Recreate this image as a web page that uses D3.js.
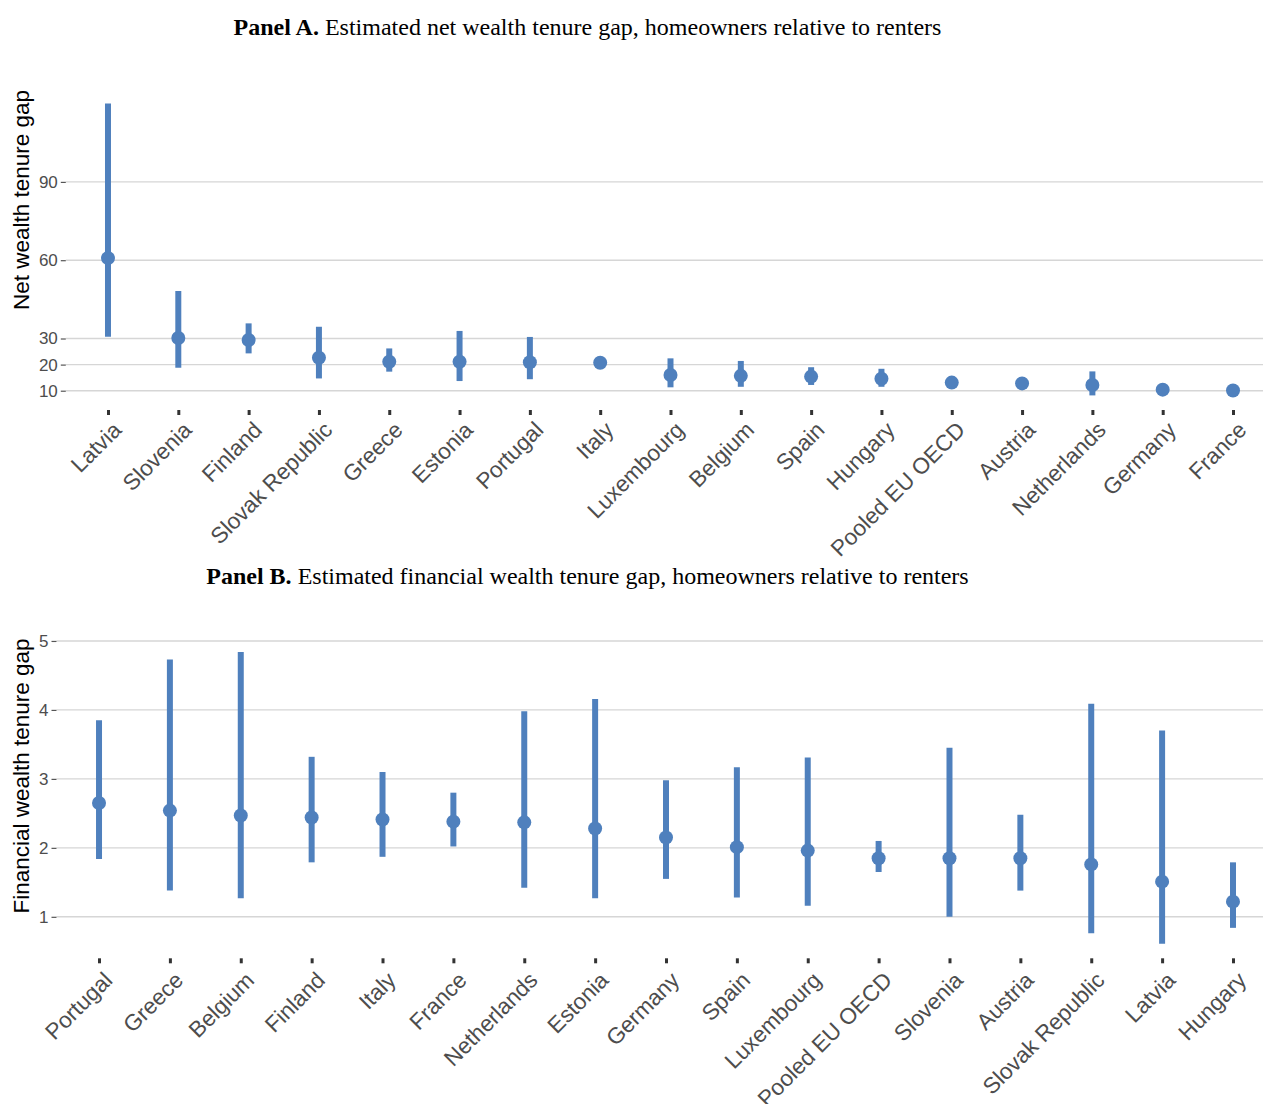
<!DOCTYPE html>
<html>
<head>
<meta charset="utf-8">
<script src="https://cdn.jsdelivr.net/npm/d3@7"></script>
<style>
  html, body { margin: 0; padding: 0; background: #ffffff; }
  svg { display: block; }
</style>
</head>
<body>
<svg id="chart" width="1263" height="1104"></svg>
<script>
// Panel A: net wealth tenure gap (estimate with confidence interval)
const countriesA = ["Latvia", "Slovenia", "Finland", "Slovak Republic", "Greece", "Estonia", "Portugal", "Italy",
  "Luxembourg", "Belgium", "Spain", "Hungary", "Pooled EU OECD", "Austria", "Netherlands", "Germany", "France"];
const estA  = [60.8, 30.2, 29.4, 22.6, 21.1, 21.1, 20.9, 20.7, 16.0, 15.7, 15.4, 14.6, 13.1, 12.8, 12.2, 10.4, 10.1];
const lowA  = [30.7, 18.8, 24.3, 14.7, 17.3, 13.7, 14.4, 19.5, 11.3, 11.5, 12.2, 11.5, 12.4, 11.8, 8.2, 9.6, 9.3];
const highA = [120.0, 48.2, 35.8, 34.5, 26.2, 32.9, 30.6, 21.9, 22.4, 21.4, 19.0, 18.4, 13.8, 13.8, 17.4, 11.2, 10.9];
const ticksA = [10, 20, 30, 60, 90];

// Panel B: financial wealth tenure gap
const countriesB = ["Portugal", "Greece", "Belgium", "Finland", "Italy", "France", "Netherlands", "Estonia", "Germany",
  "Spain", "Luxembourg", "Pooled EU OECD", "Slovenia", "Austria", "Slovak Republic", "Latvia", "Hungary"];
const estB  = [2.65, 2.54, 2.47, 2.44, 2.41, 2.38, 2.37, 2.28, 2.15, 2.01, 1.96, 1.85, 1.85, 1.85, 1.76, 1.51, 1.22];
const lowB  = [1.84, 1.38, 1.27, 1.79, 1.87, 2.02, 1.42, 1.27, 1.55, 1.28, 1.16, 1.65, 1.00, 1.38, 0.76, 0.61, 0.84];
const highB = [3.85, 4.73, 4.84, 3.32, 3.10, 2.80, 3.98, 4.16, 2.98, 3.17, 3.31, 2.10, 3.45, 2.48, 4.09, 3.70, 1.79];
const ticksB = [1, 2, 3, 4, 5];

const BLUE = "#4f80bd";
const GRID = "#d6d6d6";
const SANS = "'Liberation Sans', Arial, sans-serif";
const SERIF = "'Liberation Serif', 'Times New Roman', serif";

const svg = d3.select("#chart");

function drawPanel(cfg) {
  const rows = cfg.countries.map((c, i) => ({ c, est: cfg.est[i], lo: cfg.low[i], hi: cfg.high[i] }));

  // data range with a 5% margin on both ends
  const lo = d3.min(rows, d => d.lo), hi = d3.max(rows, d => d.hi);
  const pad = (hi - lo) * 0.05;

  const x = d3.scalePoint().domain(cfg.countries).range([cfg.left, cfg.right]).padding(0.6);
  const y = d3.scaleLinear().domain([lo - pad, hi + pad]).range([cfg.bottom, cfg.top]);

  const g = svg.append("g");

  // horizontal grid lines
  g.selectAll("line.grid").data(cfg.ticks).join("line")
    .attr("x1", cfg.left).attr("x2", 1263)
    .attr("y1", d => y(d)).attr("y2", d => y(d))
    .attr("stroke", GRID).attr("stroke-width", 1.4);

  // y axis: ticks and labels
  const yAxis = d3.axisLeft(y).tickValues(cfg.ticks).tickFormat(d3.format("d")).tickSize(5).tickPadding(3);
  const ya = g.append("g").attr("transform", `translate(${cfg.left},0)`).call(yAxis);
  ya.select(".domain").remove();
  ya.selectAll(".tick line").attr("stroke", "#555").attr("stroke-width", 1.2);
  ya.selectAll(".tick text").attr("fill", "#4d4d4d").style("font-family", SANS).style("font-size", "17px");

  // x axis: ticks and rotated labels
  const xAxis = d3.axisBottom(x).tickSize(5).tickPadding(0);
  const xa = g.append("g").attr("transform", `translate(0,${cfg.bottom})`).call(xAxis);
  xa.select(".domain").remove();
  xa.selectAll(".tick line").attr("stroke", "#333").attr("stroke-width", 3);
  xa.selectAll(".tick text")
    .attr("fill", "#4d4d4d")
    .style("font-family", SANS).style("font-size", "22.5px")
    .attr("text-anchor", "end")
    .attr("x", 0).attr("y", 0).attr("dy", "0.9em")
    .attr("transform", `translate(0,${cfg.labelGap}) rotate(-45)`);

  // confidence intervals
  g.selectAll("line.ci").data(rows).join("line")
    .attr("x1", d => x(d.c)).attr("x2", d => x(d.c))
    .attr("y1", d => y(d.lo)).attr("y2", d => y(d.hi))
    .attr("stroke", BLUE).attr("stroke-width", 6);

  // point estimates
  g.selectAll("circle.pt").data(rows).join("circle")
    .attr("cx", d => x(d.c)).attr("cy", d => y(d.est)).attr("r", 7)
    .attr("fill", BLUE);

  // y axis title
  g.append("text")
    .attr("transform", `translate(${cfg.titleX},${cfg.titleY}) rotate(-90)`)
    .attr("text-anchor", "middle")
    .style("font-family", SANS).style("font-size", "22.5px").attr("fill", "#000")
    .text(cfg.yTitle);

  // panel heading
  const h = svg.append("text")
    .attr("x", 587.5).attr("y", cfg.headY)
    .attr("text-anchor", "middle")
    .style("font-family", SERIF).style("font-size", "24px").attr("fill", "#000");
  h.append("tspan").style("font-weight", "bold").text(cfg.headBold);
  h.append("tspan").text(" " + cfg.headText);
}

drawPanel({
  countries: countriesA, est: estA, low: lowA, high: highA, ticks: ticksA,
  left: 65.8, right: 1275.2, top: 89, bottom: 410, labelGap: 7,
  titleX: 29, titleY: 200, yTitle: "Net wealth tenure gap",
  headY: 35, headBold: "Panel A.", headText: "Estimated net wealth tenure gap, homeowners relative to renters"
});

drawPanel({
  countries: countriesB, est: estB, low: lowB, high: highB, ticks: ticksB,
  left: 56.5, right: 1275.5, top: 637.4, bottom: 958.3, labelGap: 9,
  titleX: 29, titleY: 776, yTitle: "Financial wealth tenure gap",
  headY: 584, headBold: "Panel B.", headText: "Estimated financial wealth tenure gap, homeowners relative to renters"
});
</script>
</body>
</html>
